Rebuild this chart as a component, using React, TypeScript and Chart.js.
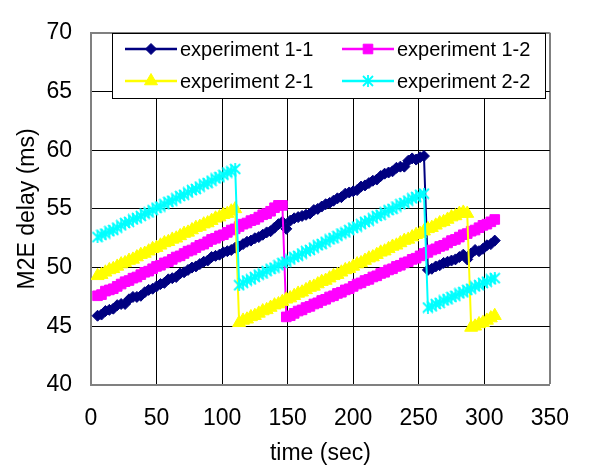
import React, { useEffect, useRef } from 'react';
import { Chart, registerables } from 'chart.js';

Chart.register(...registerables);

const timeSec = [
  5, 8, 11, 14, 17, 20, 23, 26, 29, 32,
  35, 38, 41, 44, 47, 50, 53, 56, 59, 62,
  65, 68, 71, 74, 77, 80, 83, 86, 89, 92,
  95, 98, 101, 104, 107, 110, 113, 116, 119, 122,
  125, 128, 131, 134, 137, 140, 143, 146, 149, 152,
  155, 158, 161, 164, 167, 170, 173, 176, 179, 182,
  185, 188, 191, 194, 197, 200, 203, 206, 209, 212,
  215, 218, 221, 224, 227, 230, 233, 236, 239, 242,
  245, 248, 251, 254, 257, 260, 263, 266, 269, 272,
  275, 278, 281, 284, 287, 290, 293, 296, 299, 302,
  305, 308,
];

const exp11 = [
  45.9, 46.0, 46.3, 46.4, 46.5, 46.8, 46.9, 46.9, 47.3, 47.5,
  47.5, 47.6, 47.9, 48.1, 48.2, 48.4, 48.6, 48.7, 49.0, 49.1,
  49.2, 49.5, 49.6, 49.8, 50.0, 50.1, 50.3, 50.5, 50.6, 50.9,
  51.0, 51.1, 51.3, 51.4, 51.5, 51.7, 51.8, 52.0, 52.2, 52.3,
  52.5, 52.6, 52.8, 53.0, 53.1, 53.4, 53.7, 53.9, 53.3, 54.0,
  54.2, 54.3, 54.4, 54.5, 54.6, 54.9, 55.0, 55.2, 55.4, 55.5,
  55.7, 55.9, 56.0, 56.3, 56.4, 56.5, 56.6, 56.9, 57.0, 57.2,
  57.4, 57.5, 57.8, 58.0, 58.1, 58.2, 58.5, 58.6, 58.6, 59.1,
  59.3, 59.2, 59.4, 59.5, 49.8, 49.9, 50.1, 50.2, 50.4, 50.5,
  50.6, 50.7, 50.9, 51.1, 50.7, 51.2, 51.5, 51.4, 51.6, 51.9,
  52.0, 52.3,
];

const exp12 = [
  47.6, 47.7, 48.0, 48.1, 48.2, 48.4, 48.6, 48.8, 48.9, 49.1,
  49.2, 49.4, 49.6, 49.7, 49.9, 50.1, 50.2, 50.4, 50.5, 50.7,
  50.9, 51.0, 51.2, 51.4, 51.5, 51.7, 51.9, 52.0, 52.2, 52.4,
  52.5, 52.7, 52.8, 53.0, 53.2, 53.3, 53.5, 53.7, 53.8, 54.0,
  54.1, 54.3, 54.5, 54.6, 54.8, 55.1, 55.3, 55.3, 45.8, 45.9,
  46.1, 46.3, 46.4, 46.6, 46.7, 46.9, 47.0, 47.2, 47.3, 47.5,
  47.6, 47.8, 47.9, 48.1, 48.2, 48.4, 48.6, 48.7, 48.9, 49.0,
  49.2, 49.3, 49.5, 49.6, 49.8, 49.9, 50.1, 50.2, 50.4, 50.5,
  50.7, 50.8, 51.0, 51.2, 51.3, 51.5, 51.6, 51.8, 51.9, 52.1,
  52.3, 52.4, 52.6, 52.8, 52.9, 53.1, 53.2, 53.4, 53.6, 53.7,
  53.9, 54.1,
];

const exp21 = [
  49.3, 49.4, 49.6, 49.8, 49.9, 50.1, 50.3, 50.4, 50.6, 50.7,
  50.9, 51.1, 51.2, 51.4, 51.6, 51.7, 51.9, 52.1, 52.2, 52.4,
  52.5, 52.7, 52.9, 53.0, 53.2, 53.4, 53.5, 53.7, 53.8, 54.0,
  54.2, 54.3, 54.5, 54.6, 54.8, 55.0, 45.3, 45.5, 45.6, 45.8,
  45.9, 46.1, 46.3, 46.4, 46.6, 46.8, 46.9, 47.1, 47.3, 47.4,
  47.6, 47.8, 47.9, 48.1, 48.3, 48.4, 48.6, 48.8, 48.9, 49.1,
  49.3, 49.4, 49.6, 49.8, 49.9, 50.1, 50.3, 50.4, 50.6, 50.8,
  50.9, 51.1, 51.3, 51.4, 51.6, 51.8, 51.9, 52.1, 52.3, 52.4,
  52.6, 52.8, 52.9, 53.1, 53.3, 53.4, 53.6, 53.8, 53.9, 54.1,
  54.3, 54.4, 54.6, 54.7, 54.6, 44.9, 45.0, 45.2, 45.3, 45.5,
  45.7, 45.9,
];

const exp22 = [
  52.6, 52.8, 52.9, 53.1, 53.2, 53.4, 53.6, 53.8, 53.9, 54.1,
  54.2, 54.4, 54.6, 54.7, 54.9, 55.1, 55.2, 55.4, 55.6, 55.7,
  55.9, 56.1, 56.2, 56.4, 56.6, 56.7, 56.9, 57.1, 57.2, 57.4,
  57.6, 57.7, 57.9, 58.1, 58.2, 58.4, 48.5, 48.7, 48.9, 49.0,
  49.2, 49.4, 49.5, 49.7, 49.9, 50.0, 50.2, 50.4, 50.5, 50.7,
  50.9, 51.0, 51.2, 51.4, 51.5, 51.7, 51.9, 52.0, 52.2, 52.4,
  52.5, 52.7, 52.9, 53.0, 53.2, 53.4, 53.5, 53.7, 53.9, 54.0,
  54.2, 54.4, 54.5, 54.7, 54.9, 55.0, 55.2, 55.4, 55.5, 55.7,
  55.9, 56.0, 56.2, 56.3, 46.6, 46.7, 46.9, 47.0, 47.2, 47.3,
  47.5, 47.6, 47.8, 47.9, 48.1, 48.2, 48.4, 48.5, 48.7, 48.8,
  49.0, 49.1,
];

const seriesLabels = ['experiment 1-1', 'experiment 1-2', 'experiment 2-1', 'experiment 2-2'];
const xTitle = 'time (sec)';
const yTitle = 'M2E delay (ms)';

const FONT = "'Liberation Sans', Arial, sans-serif";

function makeStar(color: string, size: number): HTMLCanvasElement {
  const c = document.createElement('canvas');
  c.width = size;
  c.height = size;
  const g = c.getContext('2d')!;
  g.strokeStyle = color;
  g.lineWidth = 1.8;
  g.beginPath();
  g.moveTo(1, 1); g.lineTo(size - 1, size - 1);
  g.moveTo(size - 1, 1); g.lineTo(1, size - 1);
  g.moveTo(size / 2, 0); g.lineTo(size / 2, size);
  g.stroke();
  return c;
}

function drawMarker(ctx: CanvasRenderingContext2D, style: any, r: number, color: string, x: number, y: number) {
  ctx.save();
  ctx.fillStyle = color;
  ctx.strokeStyle = color;
  ctx.lineWidth = 1;
  if (typeof style !== 'string') {
    ctx.drawImage(style, x - style.width / 2, y - style.height / 2);
    ctx.restore();
    return;
  }
  ctx.beginPath();
  if (style === 'rectRot') {
    ctx.moveTo(x - r, y); ctx.lineTo(x, y - r); ctx.lineTo(x + r, y); ctx.lineTo(x, y + r);
  } else if (style === 'rect') {
    const s = Math.SQRT1_2 * r;
    ctx.rect(x - s, y - s, 2 * s, 2 * s);
  } else if (style === 'triangle') {
    let a = 0;
    ctx.moveTo(x + Math.sin(a) * r, y - Math.cos(a) * r);
    a += (2 * Math.PI) / 3;
    ctx.lineTo(x + Math.sin(a) * r, y - Math.cos(a) * r);
    a += (2 * Math.PI) / 3;
    ctx.lineTo(x + Math.sin(a) * r, y - Math.cos(a) * r);
  }
  ctx.closePath();
  ctx.fill();
  ctx.stroke();
  ctx.restore();
}

const overlayPlugin = {
  id: 'overlay',
  afterDraw(chart: any) {
    const ctx: CanvasRenderingContext2D = chart.ctx;
    const area = chart.chartArea;
    // y-axis title
    ctx.save();
    ctx.font = `23px ${FONT}`;
    ctx.fillStyle = '#000';
    ctx.textAlign = 'center';
    ctx.textBaseline = 'middle';
    ctx.translate(28, (area.top + area.bottom) / 2);
    ctx.rotate(-Math.PI / 2);
    ctx.fillText(yTitle, 0, 0);
    ctx.restore();

    // legend
    const bx = 112, by = 33, bw = 433, bh = 65;
    ctx.save();
    ctx.fillStyle = '#fff';
    ctx.fillRect(bx, by, bw, bh);
    ctx.strokeStyle = '#000';
    ctx.lineWidth = 1;
    ctx.strokeRect(bx + 0.5, by + 0.5, bw, bh);
    const cols = [125, 342];
    const rows = [49, 81];
    chart.data.datasets.forEach((ds: any, i: number) => {
      const cx = cols[i % 2];
      const cy = rows[Math.floor(i / 2)];
      ctx.strokeStyle = ds.borderColor;
      ctx.lineWidth = 2.5;
      ctx.beginPath();
      ctx.moveTo(cx, cy);
      ctx.lineTo(cx + 52, cy);
      ctx.stroke();
      drawMarker(ctx, ds.pointStyle, ds.pointRadius, ds.borderColor, cx + 26, cy);
      ctx.fillStyle = '#000';
      ctx.font = `20px ${FONT}`;
      ctx.textAlign = 'left';
      ctx.textBaseline = 'middle';
      ctx.fillText(ds.label, cx + 55, cy + 1);
    });
    ctx.restore();
  },
};

export default function App() {
  const ref = useRef<HTMLCanvasElement | null>(null);

  useEffect(() => {
    if (!ref.current) return;
    const toPts = (ys: number[]) => timeSec.map((t, i) => ({ x: t, y: ys[i] }));
    const colors = ['#000080', '#FF00FF', '#FFFF00', '#00FFFF'];
    const styles: any[] = ['rectRot', 'rect', 'triangle', makeStar('#00FFFF', 12)];
    const radii = [5.5, 6.8, 7.5, 6];
    const values = [exp11, exp12, exp21, exp22];
    const datasets = values.map((v, i) => ({
      label: seriesLabels[i],
      data: toPts(v),
      borderColor: colors[i],
      backgroundColor: colors[i],
      pointBackgroundColor: colors[i],
      pointBorderColor: colors[i],
      pointStyle: styles[i],
      pointRadius: radii[i],
      borderWidth: 2,
      pointBorderWidth: 1,
      tension: 0,
      order: 3 - i,
    }));

    const chart = new Chart(ref.current, {
      type: 'line',
      data: { datasets },
      plugins: [overlayPlugin],
      options: {
        animation: false,
        responsive: false,
        devicePixelRatio: 1,
        layout: { padding: { top: 16, right: 31, left: 0, bottom: 0 } },
        plugins: { legend: { display: false }, tooltip: { enabled: false } },
        scales: {
          x: {
            type: 'linear',
            min: 0,
            max: 350,
            ticks: { stepSize: 50, color: '#000', font: { size: 23, family: FONT }, padding: 20, maxRotation: 0 },
            grid: {
              color: (c: any) => (c.tick && c.tick.value === 350 ? '#808080' : '#000'),
              lineWidth: (c: any) => (c.tick && c.tick.value === 350 ? 2 : 1),
              drawTicks: false,
            },
            border: { display: true, color: '#808080', width: 2 },
            title: { display: true, text: xTitle, color: '#000', font: { size: 23, family: FONT }, padding: { top: 0, bottom: 1 } },
            afterFit: (s: any) => { s.height = 83; },
          },
          y: {
            type: 'linear',
            min: 40,
            max: 70,
            ticks: { stepSize: 5, color: '#000', font: { size: 23, family: FONT }, padding: 19 },
            grid: {
              color: (c: any) => (c.tick && c.tick.value === 70 ? '#808080' : '#000'),
              lineWidth: (c: any) => (c.tick && c.tick.value === 70 ? 2 : 1),
              drawTicks: false,
            },
            border: { display: true, color: '#808080', width: 2 },
            afterFit: (s: any) => { s.width = 91; },
          },
        },
      },
    });
    return () => chart.destroy();
  }, []);

  return (
    <div style={{ position: 'absolute', left: 0, top: 0, width: 589, height: 468, background: '#fff' }}>
      <canvas ref={ref} width={589} height={468} style={{ display: 'block' }} />
    </div>
  );
}
